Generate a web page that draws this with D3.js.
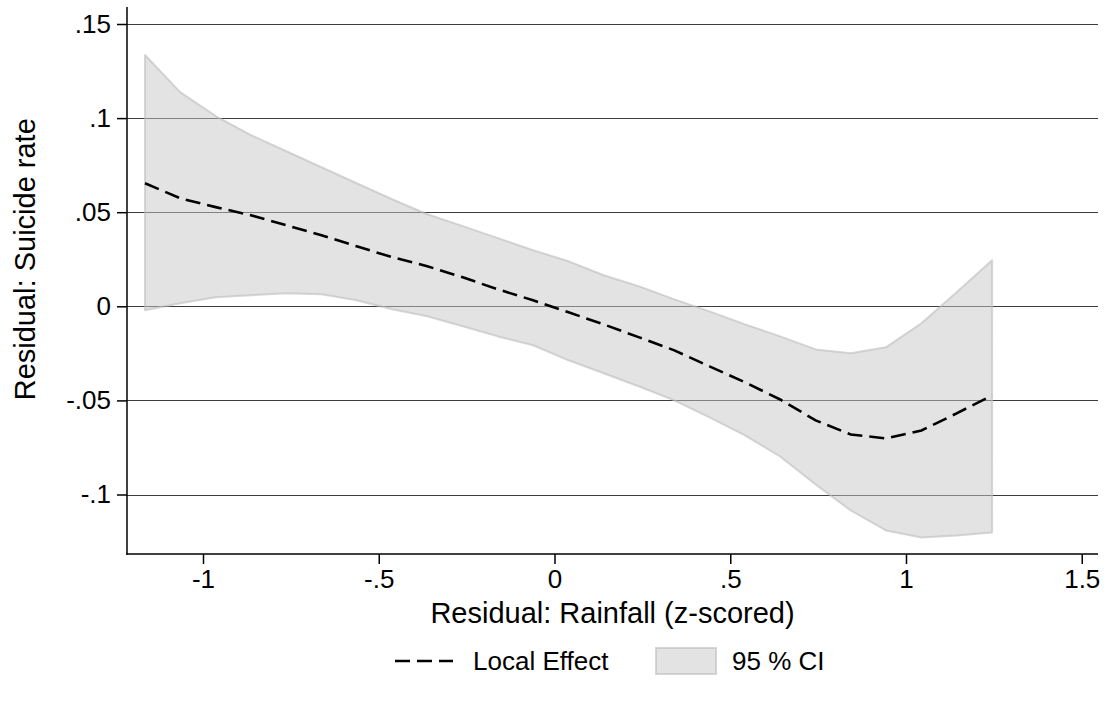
<!DOCTYPE html>
<html>
<head>
<meta charset="utf-8">
<script src="https://cdn.jsdelivr.net/npm/d3@7"></script>
<style>
  html, body { margin: 0; padding: 0; background: #fff; }
  svg { display: block; font-family: "Liberation Sans", Arial, sans-serif; }
</style>
</head>
<body>
<svg id="chart" width="1108" height="704"></svg>
<script>
// Local polynomial estimate of residual suicide rate on residual rainfall
const rainfall = [-1.165, -1.065, -0.964, -0.864, -0.763, -0.663, -0.563, -0.462, -0.362, -0.261,
                  -0.161, -0.061, 0.040, 0.140, 0.241, 0.341, 0.441, 0.542, 0.642, 0.743,
                  0.843, 0.943, 1.044, 1.144, 1.245];
const localEffect = [0.0654, 0.0574, 0.0527, 0.0484, 0.0431, 0.0378, 0.0319, 0.0261, 0.0213, 0.0154,
                     0.0090, 0.0032, -0.0032, -0.0096, -0.0165, -0.0234, -0.0319, -0.0404, -0.0495, -0.0606,
                     -0.0681, -0.0702, -0.0660, -0.0569, -0.0473];
const ciUpper = [0.1335, 0.1138, 0.1011, 0.0910, 0.0824, 0.0739, 0.0654, 0.0569, 0.0489, 0.0426,
                 0.0362, 0.0298, 0.0239, 0.0165, 0.0106, 0.0037, -0.0027, -0.0096, -0.0160, -0.0229,
                 -0.0250, -0.0218, -0.0090, 0.0074, 0.0245];
const ciLower = [-0.0021, 0.0016, 0.0048, 0.0059, 0.0069, 0.0064, 0.0032, -0.0016, -0.0053, -0.0106,
                 -0.0160, -0.0207, -0.0287, -0.0356, -0.0426, -0.0500, -0.0590, -0.0686, -0.0798, -0.0947,
                 -0.1085, -0.1191, -0.1229, -0.1218, -0.1202];

const xTicks = [-1, -0.5, 0, 0.5, 1, 1.5];
const xTickLabels = ["-1", "-.5", "0", ".5", "1", "1.5"];
const yTicks = [-0.1, -0.05, 0, 0.05, 0.1, 0.15];
const yTickLabels = ["-.1", "-.05", "0", ".05", ".1", ".15"];

const xTitle = "Residual: Rainfall (z-scored)";
const yTitle = "Residual: Suicide rate";
const legendLabels = ["Local Effect", "95 % CI"];

const rows = rainfall.map((x, i) => ({ x, y: localEffect[i], lo: ciLower[i], hi: ciUpper[i] }));

const FONT = "Liberation Sans, Arial, sans-serif";
const svg = d3.select("#chart");
const plot = { left: 127, right: 1098, top: 7, bottom: 554 };

const x = d3.scaleLinear().domain([-1, 1.5]).range([203, 1081.75]);
const y = d3.scaleLinear().domain([-0.1, 0.15]).range([494.5, 24]);

// horizontal grid lines
svg.append("g")
  .selectAll("line")
  .data(yTicks)
  .join("line")
  .attr("x1", plot.left).attr("x2", plot.right)
  .attr("y1", d => Math.round(y(d)) + 0.5).attr("y2", d => Math.round(y(d)) + 0.5)
  .attr("stroke", "#3c3c3c")
  .attr("stroke-width", 1.2);

// confidence band
const band = d3.area()
  .x(d => x(d.x))
  .y0(d => y(d.lo))
  .y1(d => y(d.hi));

svg.append("path")
  .datum(rows)
  .attr("d", band)
  .attr("fill", "#c8c8c8")
  .attr("fill-opacity", 0.5)
  .attr("stroke", "#bdbdbd")
  .attr("stroke-opacity", 0.6)
  .attr("stroke-width", 2)
  .attr("stroke-linejoin", "round");

// local effect line
const line = d3.line().x(d => x(d.x)).y(d => y(d.y));
svg.append("path")
  .datum(rows)
  .attr("d", line)
  .attr("fill", "none")
  .attr("stroke", "#000")
  .attr("stroke-width", 2.6)
  .attr("stroke-dasharray", "15,7");

// axes
const yAxis = d3.axisLeft(y).tickValues(yTicks).tickFormat((d, i) => yTickLabels[i]).tickSize(10).tickPadding(6);
const xAxis = d3.axisBottom(x).tickValues(xTicks).tickFormat((d, i) => xTickLabels[i]).tickSize(10).tickPadding(6);

const gy = svg.append("g").attr("transform", `translate(${plot.left},0)`).call(yAxis);
gy.select(".domain").remove();
gy.selectAll(".tick line").attr("stroke", "#000").attr("stroke-width", 1.5);
gy.selectAll(".tick text").attr("font-size", 26).attr("fill", "#000").attr("font-family", FONT);

const gx = svg.append("g").attr("transform", `translate(0,${plot.bottom})`).call(xAxis);
gx.select(".domain").remove();
gx.selectAll(".tick line").attr("stroke", "#000").attr("stroke-width", 1.5);
gx.selectAll(".tick text").attr("font-size", 26).attr("fill", "#000").attr("font-family", FONT);

svg.append("line")
  .attr("x1", plot.left).attr("x2", plot.left)
  .attr("y1", plot.top).attr("y2", plot.bottom + 0.75)
  .attr("stroke", "#000").attr("stroke-width", 1.5);
svg.append("line")
  .attr("x1", plot.left - 0.75).attr("x2", plot.right)
  .attr("y1", plot.bottom).attr("y2", plot.bottom)
  .attr("stroke", "#000").attr("stroke-width", 1.5);

// axis titles
svg.append("text")
  .attr("x", (plot.left + plot.right) / 2)
  .attr("y", 623)
  .attr("text-anchor", "middle")
  .attr("font-size", 29)
  .text(xTitle);

svg.append("text")
  .attr("transform", `translate(35,${(y(0.15) + y(-0.1)) / 2}) rotate(-90)`)
  .attr("text-anchor", "middle")
  .attr("font-size", 29)
  .text(yTitle);

// legend
const lg = svg.append("g");
lg.append("line")
  .attr("x1", 395).attr("x2", 453).attr("y1", 661).attr("y2", 661)
  .attr("stroke", "#000").attr("stroke-width", 2.6).attr("stroke-dasharray", "15,7");
lg.append("text").attr("x", 473).attr("y", 670).attr("font-size", 26).text(legendLabels[0]);
lg.append("rect")
  .attr("x", 656).attr("y", 648).attr("width", 60).attr("height", 26)
  .attr("fill", "#c8c8c8").attr("fill-opacity", 0.5)
  .attr("stroke", "#bdbdbd").attr("stroke-opacity", 0.6).attr("stroke-width", 2);
lg.append("text").attr("x", 732).attr("y", 670).attr("font-size", 26).text(legendLabels[1]);
</script>
</body>
</html>
